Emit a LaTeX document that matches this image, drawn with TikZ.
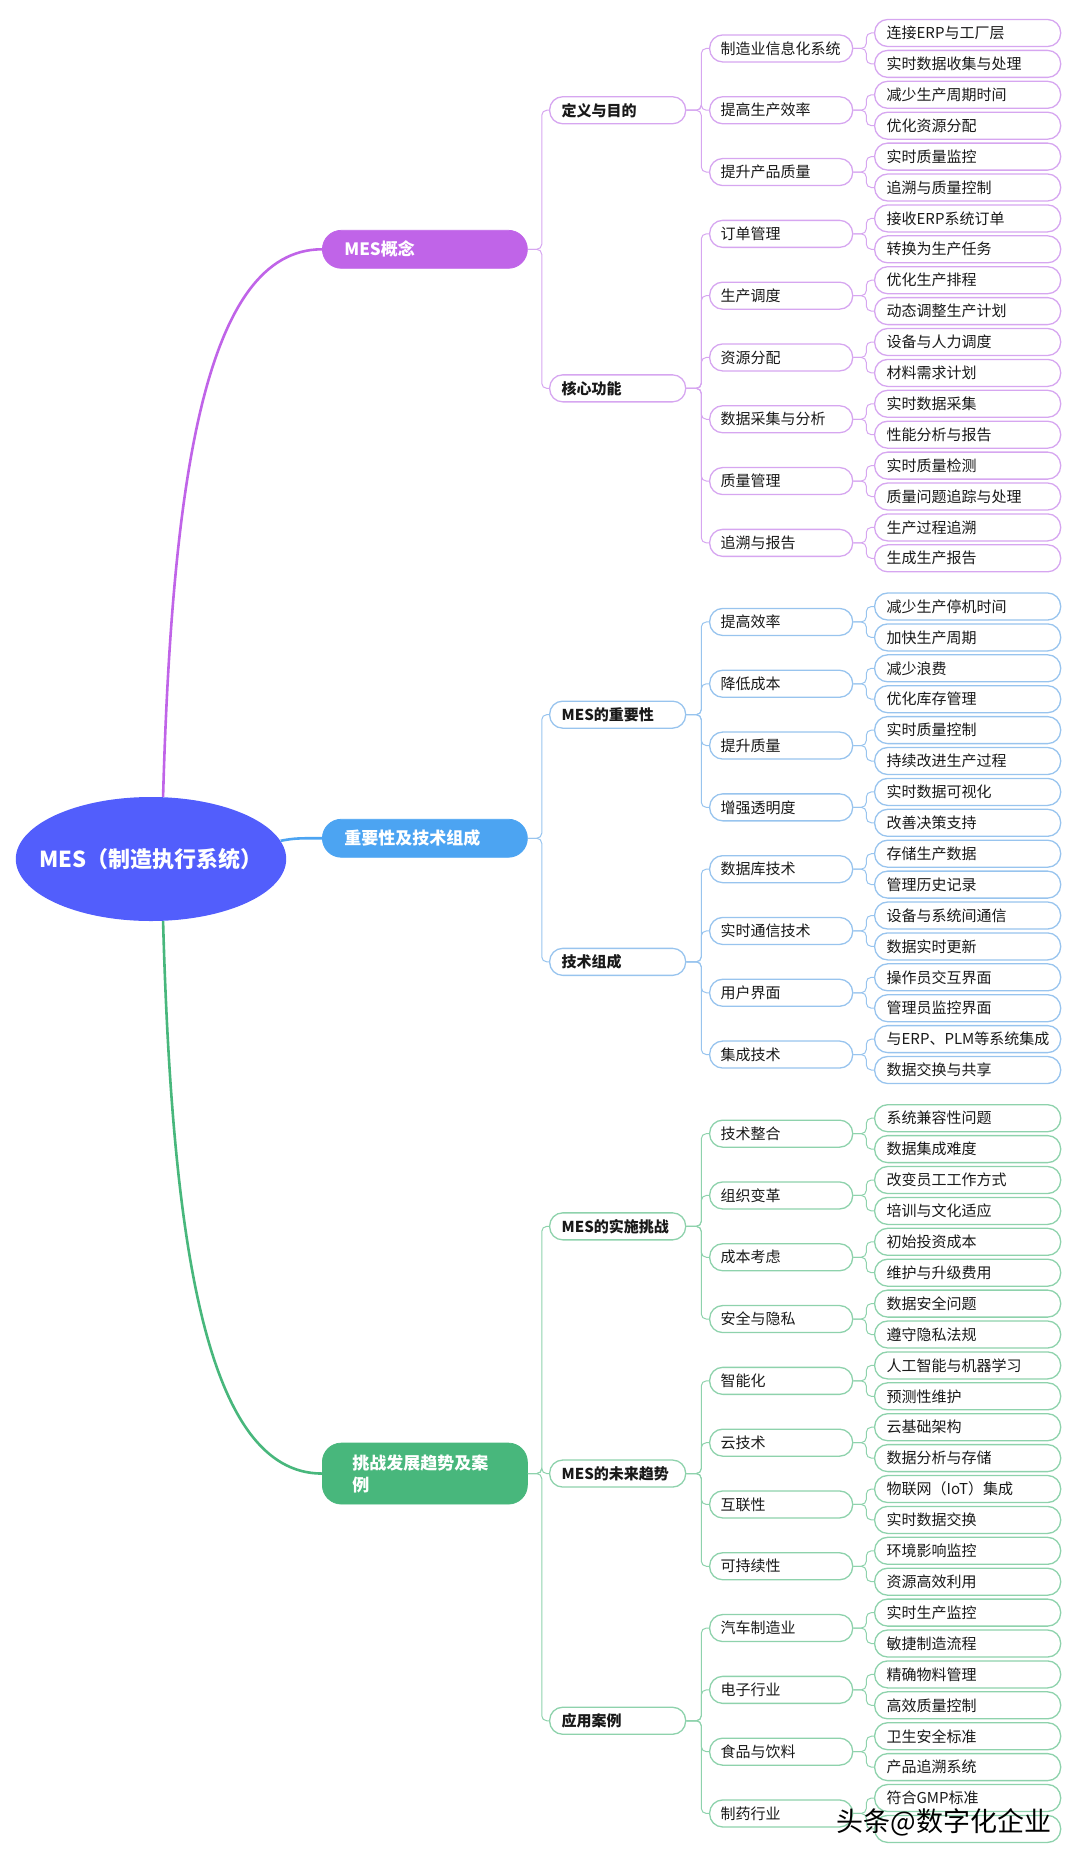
\documentclass[tikz,border=0pt]{standalone}
\usepackage{fontspec}
\setmainfont{Noto Sans CJK SC}
\usetikzlibrary{shapes.geometric}

\definecolor{rootBlue}{RGB}{82,94,252}
\definecolor{conceptPurple}{RGB}{192,100,232}
\definecolor{importBlue}{RGB}{76,164,242}
\definecolor{challengeGreen}{RGB}{72,183,124}
\definecolor{purpleLight}{RGB}{214,166,240}
\definecolor{blueLight}{RGB}{152,196,238}
\definecolor{greenLight}{RGB}{142,210,172}
\definecolor{inkText}{RGB}{25,25,25}

\tikzset{every picture/.style={line width=0.75pt},
  mesroot/.style={ellipse, fill=rootBlue, text=white, minimum width=266pt, minimum height=124pt, inner xsep=-16pt, inner ysep=0pt, font=\fontsize{22pt}{26pt}\selectfont\bfseries},
  topbox/.style={fill=#1, draw=#1, rounded corners=19pt, anchor=west, minimum height=38pt, inner xsep=22pt, inner ysep=0pt, text width=161pt, align=left, text=white, font=\fontsize{17pt}{22pt}\selectfont\bfseries},
  midbox/.style={draw=#1, fill=white, line width=1.3pt, rounded corners=13pt, anchor=west, minimum height=27pt, inner xsep=12pt, inner ysep=0pt, text width=112pt, align=left, text=inkText, font=\fontsize{15pt}{18pt}\selectfont\bfseries},
  subbox/.style={draw=#1, fill=white, line width=1.3pt, rounded corners=13pt, anchor=west, minimum height=27pt, inner xsep=11pt, inner ysep=0pt, text width=121pt, align=left, text=inkText, font=\fontsize{15pt}{18pt}\selectfont},
  leafbox/.style={draw=#1, fill=white, line width=1.3pt, rounded corners=13pt, anchor=west, minimum height=27pt, inner xsep=12pt, inner ysep=0pt, text width=162pt, align=left, text=inkText, font=\fontsize{15pt}{18pt}\selectfont},
  rootlink/.style={draw=#1, line width=2.6pt},
  branchlink/.style={draw=#1, line width=1pt, rounded corners=5pt},
}

\begin{document}
\begin{tikzpicture}[x=1pt,y=1pt,yscale=-1,xscale=1]
        \useasboundingbox (0,0) rectangle (1080,1857);

        %Shape: Ellipse [root]
        \node[mesroot] (root) at (151,859) {MES（制造执行系统）};

        %Rounded Rect [level 1]
        \node[topbox=conceptPurple] (conc) at (322,249.3) {MES概念};
        \node[topbox=importBlue] (imp) at (322,838.25) {重要性及技术组成};
        \node[topbox=challengeGreen, minimum height=61pt, inner xsep=30pt, text width=145pt] (chal) at (322,1473.55) {挑战发展趋势及案\\例};

        %Curves [root to level 1]
        \draw[rootlink=conceptPurple] (root.79) .. controls (172,480) and (205,249.3) .. (conc.west);
        \draw[rootlink=importBlue] (root.8) .. controls (295,838) and (300,838.25) .. (imp.west);
        \draw[rootlink=challengeGreen] (root.281) .. controls (172,1240) and (205,1473.55) .. (chal.west);

        %Rounded Rect [level 2]
        \node[midbox=purpleLight] (def) at (549,110.25) {定义与目的};
        \node[midbox=purpleLight] (core) at (549,388.35) {核心功能};
        \node[midbox=blueLight] (value) at (549,714.65) {MES的重要性};
        \node[midbox=blueLight] (tech) at (549,961.85) {技术组成};
        \node[midbox=greenLight] (hurdle) at (549,1226.35) {MES的实施挑战};
        \node[midbox=greenLight] (trend) at (549,1473.55) {MES的未来趋势};
        \node[midbox=greenLight] (case) at (549,1720.75) {应用案例};

        %Straight Lines [level 1 to level 2]
        \draw[branchlink=purpleLight] (conc.east) -- ++(14,0) |- (def.west);
        \draw[branchlink=purpleLight] (conc.east) -- ++(14,0) |- (core.west);
        \draw[branchlink=blueLight] (imp.east) -- ++(14,0) |- (value.west);
        \draw[branchlink=blueLight] (imp.east) -- ++(14,0) |- (tech.west);
        \draw[branchlink=greenLight] (chal.east) -- ++(14,0) |- (hurdle.west);
        \draw[branchlink=greenLight] (chal.east) -- ++(14,0) |- (trend.west);
        \draw[branchlink=greenLight] (chal.east) -- ++(14,0) |- (case.west);

        %Rounded Rect [level 3]
        \node[subbox=purpleLight] (def1) at (709,48.45) {制造业信息化系统};
        \node[subbox=purpleLight] (def2) at (709,110.25) {提高生产效率};
        \node[subbox=purpleLight] (def3) at (709,172.05) {提升产品质量};
        \node[subbox=purpleLight] (core1) at (709,233.85) {订单管理};
        \node[subbox=purpleLight] (core2) at (709,295.65) {生产调度};
        \node[subbox=purpleLight] (core3) at (709,357.45) {资源分配};
        \node[subbox=purpleLight] (core4) at (709,419.25) {数据采集与分析};
        \node[subbox=purpleLight] (core5) at (709,481.05) {质量管理};
        \node[subbox=purpleLight] (core6) at (709,542.85) {追溯与报告};
        \node[subbox=blueLight] (val1) at (709,621.95) {提高效率};
        \node[subbox=blueLight] (val2) at (709,683.75) {降低成本};
        \node[subbox=blueLight] (val3) at (709,745.55) {提升质量};
        \node[subbox=blueLight] (val4) at (709,807.35) {增强透明度};
        \node[subbox=blueLight] (tech1) at (709,869.15) {数据库技术};
        \node[subbox=blueLight] (tech2) at (709,930.95) {实时通信技术};
        \node[subbox=blueLight] (tech3) at (709,992.75) {用户界面};
        \node[subbox=blueLight] (tech4) at (709,1054.55) {集成技术};
        \node[subbox=greenLight] (hur1) at (709,1133.65) {技术整合};
        \node[subbox=greenLight] (hur2) at (709,1195.45) {组织变革};
        \node[subbox=greenLight] (hur3) at (709,1257.25) {成本考虑};
        \node[subbox=greenLight] (hur4) at (709,1319.05) {安全与隐私};
        \node[subbox=greenLight] (tr1) at (709,1380.85) {智能化};
        \node[subbox=greenLight] (tr2) at (709,1442.65) {云技术};
        \node[subbox=greenLight] (tr3) at (709,1504.45) {互联性};
        \node[subbox=greenLight] (tr4) at (709,1566.25) {可持续性};
        \node[subbox=greenLight] (case1) at (709,1628.05) {汽车制造业};
        \node[subbox=greenLight] (case2) at (709,1689.85) {电子行业};
        \node[subbox=greenLight] (case3) at (709,1751.65) {食品与饮料};
        \node[subbox=greenLight] (case4) at (709,1813.45) {制药行业};

        %Straight Lines [level 2 to level 3]
        \draw[branchlink=purpleLight] (def.east) -- ++(15,0) |- (def1.west);
        \draw[branchlink=purpleLight] (def.east) -- ++(15,0) |- (def2.west);
        \draw[branchlink=purpleLight] (def.east) -- ++(15,0) |- (def3.west);
        \draw[branchlink=purpleLight] (core.east) -- ++(15,0) |- (core1.west);
        \draw[branchlink=purpleLight] (core.east) -- ++(15,0) |- (core2.west);
        \draw[branchlink=purpleLight] (core.east) -- ++(15,0) |- (core3.west);
        \draw[branchlink=purpleLight] (core.east) -- ++(15,0) |- (core4.west);
        \draw[branchlink=purpleLight] (core.east) -- ++(15,0) |- (core5.west);
        \draw[branchlink=purpleLight] (core.east) -- ++(15,0) |- (core6.west);
        \draw[branchlink=blueLight] (value.east) -- ++(15,0) |- (val1.west);
        \draw[branchlink=blueLight] (value.east) -- ++(15,0) |- (val2.west);
        \draw[branchlink=blueLight] (value.east) -- ++(15,0) |- (val3.west);
        \draw[branchlink=blueLight] (value.east) -- ++(15,0) |- (val4.west);
        \draw[branchlink=blueLight] (tech.east) -- ++(15,0) |- (tech1.west);
        \draw[branchlink=blueLight] (tech.east) -- ++(15,0) |- (tech2.west);
        \draw[branchlink=blueLight] (tech.east) -- ++(15,0) |- (tech3.west);
        \draw[branchlink=blueLight] (tech.east) -- ++(15,0) |- (tech4.west);
        \draw[branchlink=greenLight] (hurdle.east) -- ++(15,0) |- (hur1.west);
        \draw[branchlink=greenLight] (hurdle.east) -- ++(15,0) |- (hur2.west);
        \draw[branchlink=greenLight] (hurdle.east) -- ++(15,0) |- (hur3.west);
        \draw[branchlink=greenLight] (hurdle.east) -- ++(15,0) |- (hur4.west);
        \draw[branchlink=greenLight] (trend.east) -- ++(15,0) |- (tr1.west);
        \draw[branchlink=greenLight] (trend.east) -- ++(15,0) |- (tr2.west);
        \draw[branchlink=greenLight] (trend.east) -- ++(15,0) |- (tr3.west);
        \draw[branchlink=greenLight] (trend.east) -- ++(15,0) |- (tr4.west);
        \draw[branchlink=greenLight] (case.east) -- ++(15,0) |- (case1.west);
        \draw[branchlink=greenLight] (case.east) -- ++(15,0) |- (case2.west);
        \draw[branchlink=greenLight] (case.east) -- ++(15,0) |- (case3.west);
        \draw[branchlink=greenLight] (case.east) -- ++(15,0) |- (case4.west);

        %Rounded Rect [leaves, purple]
        \node[leafbox=purpleLight] (def1a) at (874,33.0) {连接ERP与工厂层};
        \node[leafbox=purpleLight] (def1b) at (874,63.9) {实时数据收集与处理};
        \node[leafbox=purpleLight] (def2a) at (874,94.8) {减少生产周期时间};
        \node[leafbox=purpleLight] (def2b) at (874,125.7) {优化资源分配};
        \node[leafbox=purpleLight] (def3a) at (874,156.6) {实时质量监控};
        \node[leafbox=purpleLight] (def3b) at (874,187.5) {追溯与质量控制};
        \node[leafbox=purpleLight] (core1a) at (874,218.4) {接收ERP系统订单};
        \node[leafbox=purpleLight] (core1b) at (874,249.3) {转换为生产任务};
        \node[leafbox=purpleLight] (core2a) at (874,280.2) {优化生产排程};
        \node[leafbox=purpleLight] (core2b) at (874,311.1) {动态调整生产计划};
        \node[leafbox=purpleLight] (core3a) at (874,342.0) {设备与人力调度};
        \node[leafbox=purpleLight] (core3b) at (874,372.9) {材料需求计划};
        \node[leafbox=purpleLight] (core4a) at (874,403.8) {实时数据采集};
        \node[leafbox=purpleLight] (core4b) at (874,434.7) {性能分析与报告};
        \node[leafbox=purpleLight] (core5a) at (874,465.6) {实时质量检测};
        \node[leafbox=purpleLight] (core5b) at (874,496.5) {质量问题追踪与处理};
        \node[leafbox=purpleLight] (core6a) at (874,527.4) {生产过程追溯};
        \node[leafbox=purpleLight] (core6b) at (874,558.3) {生成生产报告};

        %Rounded Rect [leaves, blue]
        \node[leafbox=blueLight] (val1a) at (874,606.5) {减少生产停机时间};
        \node[leafbox=blueLight] (val1b) at (874,637.4) {加快生产周期};
        \node[leafbox=blueLight] (val2a) at (874,668.3) {减少浪费};
        \node[leafbox=blueLight] (val2b) at (874,699.2) {优化库存管理};
        \node[leafbox=blueLight] (val3a) at (874,730.1) {实时质量控制};
        \node[leafbox=blueLight] (val3b) at (874,761.0) {持续改进生产过程};
        \node[leafbox=blueLight] (val4a) at (874,791.9) {实时数据可视化};
        \node[leafbox=blueLight] (val4b) at (874,822.8) {改善决策支持};
        \node[leafbox=blueLight] (tech1a) at (874,853.7) {存储生产数据};
        \node[leafbox=blueLight] (tech1b) at (874,884.6) {管理历史记录};
        \node[leafbox=blueLight] (tech2a) at (874,915.5) {设备与系统间通信};
        \node[leafbox=blueLight] (tech2b) at (874,946.4) {数据实时更新};
        \node[leafbox=blueLight] (tech3a) at (874,977.3) {操作员交互界面};
        \node[leafbox=blueLight] (tech3b) at (874,1008.2) {管理员监控界面};
        \node[leafbox=blueLight] (tech4a) at (874,1039.1) {与ERP、PLM等系统集成};
        \node[leafbox=blueLight] (tech4b) at (874,1070.0) {数据交换与共享};

        %Rounded Rect [leaves, green]
        \node[leafbox=greenLight] (hur1a) at (874,1118.2) {系统兼容性问题};
        \node[leafbox=greenLight] (hur1b) at (874,1149.1) {数据集成难度};
        \node[leafbox=greenLight] (hur2a) at (874,1180.0) {改变员工工作方式};
        \node[leafbox=greenLight] (hur2b) at (874,1210.9) {培训与文化适应};
        \node[leafbox=greenLight] (hur3a) at (874,1241.8) {初始投资成本};
        \node[leafbox=greenLight] (hur3b) at (874,1272.7) {维护与升级费用};
        \node[leafbox=greenLight] (hur4a) at (874,1303.6) {数据安全问题};
        \node[leafbox=greenLight] (hur4b) at (874,1334.5) {遵守隐私法规};
        \node[leafbox=greenLight] (tr1a) at (874,1365.4) {人工智能与机器学习};
        \node[leafbox=greenLight] (tr1b) at (874,1396.3) {预测性维护};
        \node[leafbox=greenLight] (tr2a) at (874,1427.2) {云基础架构};
        \node[leafbox=greenLight] (tr2b) at (874,1458.1) {数据分析与存储};
        \node[leafbox=greenLight] (tr3a) at (874,1489.0) {物联网（IoT）集成};
        \node[leafbox=greenLight] (tr3b) at (874,1519.9) {实时数据交换};
        \node[leafbox=greenLight] (tr4a) at (874,1550.8) {环境影响监控};
        \node[leafbox=greenLight] (tr4b) at (874,1581.7) {资源高效利用};
        \node[leafbox=greenLight] (case1a) at (874,1612.6) {实时生产监控};
        \node[leafbox=greenLight] (case1b) at (874,1643.5) {敏捷制造流程};
        \node[leafbox=greenLight] (case2a) at (874,1674.4) {精确物料管理};
        \node[leafbox=greenLight] (case2b) at (874,1705.3) {高效质量控制};
        \node[leafbox=greenLight] (case3a) at (874,1736.2) {卫生安全标准};
        \node[leafbox=greenLight] (case3b) at (874,1767.1) {产品追溯系统};
        \node[leafbox=greenLight] (case4a) at (874,1798.0) {符合GMP标准};
        \node[leafbox=greenLight] (case4b) at (874,1828.9) {};

        %Straight Lines [level 3 to leaves]
        \draw[branchlink=purpleLight] (def1.east) -- ++(13,0) |- (def1a.west);
        \draw[branchlink=purpleLight] (def1.east) -- ++(13,0) |- (def1b.west);
        \draw[branchlink=purpleLight] (def2.east) -- ++(13,0) |- (def2a.west);
        \draw[branchlink=purpleLight] (def2.east) -- ++(13,0) |- (def2b.west);
        \draw[branchlink=purpleLight] (def3.east) -- ++(13,0) |- (def3a.west);
        \draw[branchlink=purpleLight] (def3.east) -- ++(13,0) |- (def3b.west);
        \draw[branchlink=purpleLight] (core1.east) -- ++(13,0) |- (core1a.west);
        \draw[branchlink=purpleLight] (core1.east) -- ++(13,0) |- (core1b.west);
        \draw[branchlink=purpleLight] (core2.east) -- ++(13,0) |- (core2a.west);
        \draw[branchlink=purpleLight] (core2.east) -- ++(13,0) |- (core2b.west);
        \draw[branchlink=purpleLight] (core3.east) -- ++(13,0) |- (core3a.west);
        \draw[branchlink=purpleLight] (core3.east) -- ++(13,0) |- (core3b.west);
        \draw[branchlink=purpleLight] (core4.east) -- ++(13,0) |- (core4a.west);
        \draw[branchlink=purpleLight] (core4.east) -- ++(13,0) |- (core4b.west);
        \draw[branchlink=purpleLight] (core5.east) -- ++(13,0) |- (core5a.west);
        \draw[branchlink=purpleLight] (core5.east) -- ++(13,0) |- (core5b.west);
        \draw[branchlink=purpleLight] (core6.east) -- ++(13,0) |- (core6a.west);
        \draw[branchlink=purpleLight] (core6.east) -- ++(13,0) |- (core6b.west);
        \draw[branchlink=blueLight] (val1.east) -- ++(13,0) |- (val1a.west);
        \draw[branchlink=blueLight] (val1.east) -- ++(13,0) |- (val1b.west);
        \draw[branchlink=blueLight] (val2.east) -- ++(13,0) |- (val2a.west);
        \draw[branchlink=blueLight] (val2.east) -- ++(13,0) |- (val2b.west);
        \draw[branchlink=blueLight] (val3.east) -- ++(13,0) |- (val3a.west);
        \draw[branchlink=blueLight] (val3.east) -- ++(13,0) |- (val3b.west);
        \draw[branchlink=blueLight] (val4.east) -- ++(13,0) |- (val4a.west);
        \draw[branchlink=blueLight] (val4.east) -- ++(13,0) |- (val4b.west);
        \draw[branchlink=blueLight] (tech1.east) -- ++(13,0) |- (tech1a.west);
        \draw[branchlink=blueLight] (tech1.east) -- ++(13,0) |- (tech1b.west);
        \draw[branchlink=blueLight] (tech2.east) -- ++(13,0) |- (tech2a.west);
        \draw[branchlink=blueLight] (tech2.east) -- ++(13,0) |- (tech2b.west);
        \draw[branchlink=blueLight] (tech3.east) -- ++(13,0) |- (tech3a.west);
        \draw[branchlink=blueLight] (tech3.east) -- ++(13,0) |- (tech3b.west);
        \draw[branchlink=blueLight] (tech4.east) -- ++(13,0) |- (tech4a.west);
        \draw[branchlink=blueLight] (tech4.east) -- ++(13,0) |- (tech4b.west);
        \draw[branchlink=greenLight] (hur1.east) -- ++(13,0) |- (hur1a.west);
        \draw[branchlink=greenLight] (hur1.east) -- ++(13,0) |- (hur1b.west);
        \draw[branchlink=greenLight] (hur2.east) -- ++(13,0) |- (hur2a.west);
        \draw[branchlink=greenLight] (hur2.east) -- ++(13,0) |- (hur2b.west);
        \draw[branchlink=greenLight] (hur3.east) -- ++(13,0) |- (hur3a.west);
        \draw[branchlink=greenLight] (hur3.east) -- ++(13,0) |- (hur3b.west);
        \draw[branchlink=greenLight] (hur4.east) -- ++(13,0) |- (hur4a.west);
        \draw[branchlink=greenLight] (hur4.east) -- ++(13,0) |- (hur4b.west);
        \draw[branchlink=greenLight] (tr1.east) -- ++(13,0) |- (tr1a.west);
        \draw[branchlink=greenLight] (tr1.east) -- ++(13,0) |- (tr1b.west);
        \draw[branchlink=greenLight] (tr2.east) -- ++(13,0) |- (tr2a.west);
        \draw[branchlink=greenLight] (tr2.east) -- ++(13,0) |- (tr2b.west);
        \draw[branchlink=greenLight] (tr3.east) -- ++(13,0) |- (tr3a.west);
        \draw[branchlink=greenLight] (tr3.east) -- ++(13,0) |- (tr3b.west);
        \draw[branchlink=greenLight] (tr4.east) -- ++(13,0) |- (tr4a.west);
        \draw[branchlink=greenLight] (tr4.east) -- ++(13,0) |- (tr4b.west);
        \draw[branchlink=greenLight] (case1.east) -- ++(13,0) |- (case1a.west);
        \draw[branchlink=greenLight] (case1.east) -- ++(13,0) |- (case1b.west);
        \draw[branchlink=greenLight] (case2.east) -- ++(13,0) |- (case2a.west);
        \draw[branchlink=greenLight] (case2.east) -- ++(13,0) |- (case2b.west);
        \draw[branchlink=greenLight] (case3.east) -- ++(13,0) |- (case3a.west);
        \draw[branchlink=greenLight] (case3.east) -- ++(13,0) |- (case3b.west);
        \draw[branchlink=greenLight] (case4.east) -- ++(13,0) |- (case4a.west);
        \draw[branchlink=greenLight] (case4.east) -- ++(13,0) |- (case4b.west);

        % Text Node [watermark]
        \node[font=\fontsize{27pt}{30pt}\selectfont, text=black] (mark) at (944,1822) {头条@数字化企业};

\end{tikzpicture}
\end{document}
